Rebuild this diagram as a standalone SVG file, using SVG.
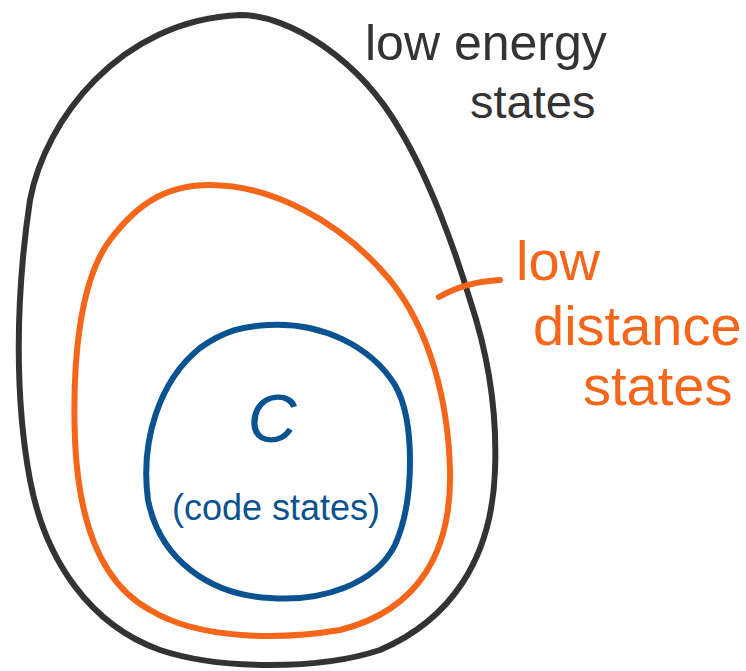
<svg xmlns="http://www.w3.org/2000/svg" width="746" height="671" viewBox="0 0 746 671">
<style>
.ln{fill:none;stroke-width:6;stroke-linecap:round;stroke-linejoin:round}
.k{stroke:#333333}.o{stroke:#F5661A}.b{stroke:#0B5291}
text{font-family:"Liberation Sans","DejaVu Sans",sans-serif}
.tk{fill:#333333}.to{fill:#F5661A}.tb{fill:#0B5291}
</style>
<rect width="746" height="671" fill="#ffffff"/>
<g id="low-energy-states">
<path class="ln k" d="M 240 15 C 290 15, 360 60, 400 130 C 430 180, 455 250, 470 300 C 490 360, 497 420, 495 470 C 492 560, 450 620, 380 650 C 320 670, 220 670, 160 650 C 90 625, 45 560, 30 480 C 15 400, 15 300, 30 200 C 45 120, 120 20, 240 15 Z"/>
<text class="tk" x="365" y="60" font-size="50">low energy</text>
<text class="tk" x="470" y="118" font-size="47">states</text>
</g>
<g id="low-distance-states">
<path class="ln o" d="M 210 185 C 270 185, 340 220, 390 280 C 430 330, 448 400, 450 470 C 452 550, 420 610, 340 630 C 280 640, 200 640, 150 610 C 95 580, 78 510, 75 440 C 72 360, 80 280, 110 240 C 140 200, 170 185, 210 185 Z"/>
<text class="to" x="516" y="280" font-size="56">low</text>
<text class="to" x="533" y="345" font-size="56">distance</text>
<text class="to" x="583" y="405" font-size="56">states</text>
</g>
<g id="code-states">
<path class="ln b" d="M 268 325 C 320 322, 370 345, 395 385 C 415 420, 415 500, 395 545 C 375 585, 320 602, 270 598 C 210 595, 160 560, 148 500 C 140 440, 160 380, 200 348 C 225 330, 245 326, 268 325 Z"/>
<text class="tb" x="272" y="442" font-size="68" text-anchor="middle" font-style="italic" font-family="'Liberation Serif',serif">C</text>
<text class="tb" x="172" y="520" font-size="36">(code states)</text>
</g>
<g id="connectors">
<path class="ln o" d="M 439 297 C 460 285, 480 281, 500 280"/>
</g>
</svg>
